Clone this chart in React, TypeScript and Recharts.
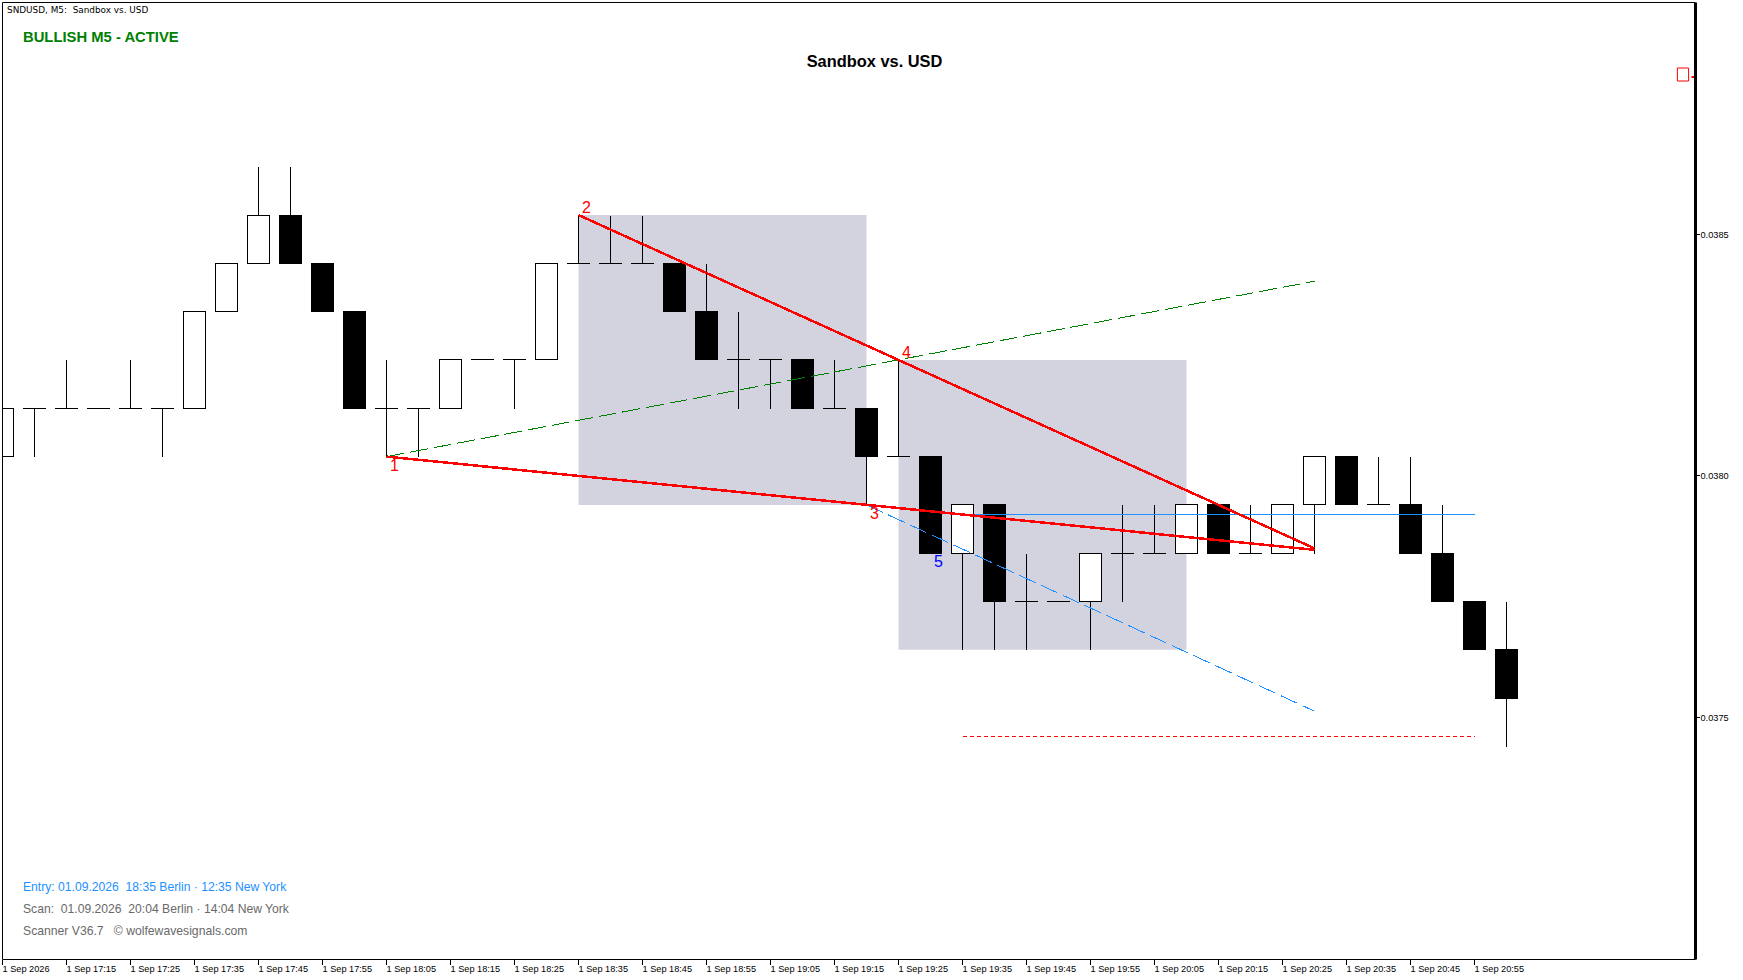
import React from "react";
import {
  ComposedChart,
  Bar,
  Line,
  XAxis,
  YAxis,
  ReferenceArea,
  ReferenceLine,
  ReferenceDot,
} from "recharts";

// Bar index: 0 = first bar on the chart (17:05), one bar each five minutes
const barIndex = [
  0, 1, 2, 3, 4, 5, 6, 7, 8, 9, 10, 11, 12, 13, 14, 15, 16, 17, 18, 19, 20, 21, 22, 23,
  24, 25, 26, 27, 28, 29, 30, 31, 32, 33, 34, 35, 36, 37, 38, 39, 40, 41, 42, 43, 44, 45, 46, 47,
];
const opens = [
  0.03804, 0.03814, 0.03814, 0.03814, 0.03814, 0.03814, 0.03814, 0.03834, 0.03844, 0.03854, 0.03844, 0.03834,
  0.03814, 0.03814, 0.03814, 0.03824, 0.03824, 0.03824, 0.03844, 0.03844, 0.03844, 0.03844, 0.03834, 0.03824,
  0.03824, 0.03824, 0.03814, 0.03814, 0.03804, 0.03804, 0.03784, 0.03794, 0.03774, 0.03774, 0.03774, 0.03784,
  0.03784, 0.03784, 0.03794, 0.03784, 0.03784, 0.03794, 0.03804, 0.03794, 0.03794, 0.03784, 0.03774, 0.03764,
];
const closes = [
  0.03814, 0.03814, 0.03814, 0.03814, 0.03814, 0.03814, 0.03834, 0.03844, 0.03854, 0.03844, 0.03834, 0.03814,
  0.03814, 0.03814, 0.03824, 0.03824, 0.03824, 0.03844, 0.03844, 0.03844, 0.03844, 0.03834, 0.03824, 0.03824,
  0.03824, 0.03814, 0.03814, 0.03804, 0.03804, 0.03784, 0.03794, 0.03774, 0.03774, 0.03774, 0.03784, 0.03784,
  0.03784, 0.03794, 0.03784, 0.03784, 0.03794, 0.03804, 0.03794, 0.03794, 0.03784, 0.03774, 0.03764, 0.03754,
];
const highs = [
  0.03814, 0.03814, 0.03824, 0.03814, 0.03824, 0.03814, 0.03834, 0.03844, 0.03864, 0.03864, 0.03844, 0.03834,
  0.03824, 0.03814, 0.03824, 0.03824, 0.03824, 0.03844, 0.03854, 0.03854, 0.03854, 0.03844, 0.03844, 0.03834,
  0.03824, 0.03824, 0.03824, 0.03814, 0.03824, 0.03804, 0.03794, 0.03794, 0.03784, 0.03774, 0.03784, 0.03794,
  0.03794, 0.03794, 0.03794, 0.03794, 0.03794, 0.03804, 0.03804, 0.03804, 0.03804, 0.03794, 0.03774, 0.03774,
];
const lows = [
  0.03804, 0.03804, 0.03814, 0.03814, 0.03814, 0.03804, 0.03814, 0.03834, 0.03844, 0.03844, 0.03834, 0.03814,
  0.03804, 0.03804, 0.03814, 0.03824, 0.03814, 0.03824, 0.03844, 0.03844, 0.03844, 0.03834, 0.03824, 0.03814,
  0.03814, 0.03814, 0.03814, 0.03794, 0.03804, 0.03784, 0.03764, 0.03764, 0.03764, 0.03774, 0.03764, 0.03774,
  0.03784, 0.03784, 0.03784, 0.03784, 0.03784, 0.03784, 0.03794, 0.03794, 0.03784, 0.03774, 0.03764, 0.03744,
];

const tickBars = [
  0, 2, 4, 6, 8, 10, 12, 14, 16, 18, 20, 22, 24, 26, 28, 30, 32, 34, 36, 38, 40, 42, 44, 46,
];
const tickLabels = [
  "1 Sep 2026", "1 Sep 17:15", "1 Sep 17:25", "1 Sep 17:35", "1 Sep 17:45", "1 Sep 17:55",
  "1 Sep 18:05", "1 Sep 18:15", "1 Sep 18:25", "1 Sep 18:35", "1 Sep 18:45", "1 Sep 18:55",
  "1 Sep 19:05", "1 Sep 19:15", "1 Sep 19:25", "1 Sep 19:35", "1 Sep 19:45", "1 Sep 19:55",
  "1 Sep 20:05", "1 Sep 20:15", "1 Sep 20:25", "1 Sep 20:35", "1 Sep 20:45", "1 Sep 20:55",
];
const priceTicks = [0.0375, 0.038, 0.0385];

// Wolfe wave lines
const line1to3 = [{ i: 12, v: 0.03804 }, { i: 41, v: 0.037847 }];
const line2to4 = [{ i: 18, v: 0.03854 }, { i: 41, v: 0.03785 }];
const line1to4 = [{ i: 12, v: 0.03804 }, { i: 41, v: 0.038403 }];
const line3to5 = [{ i: 27, v: 0.03794 }, { i: 41, v: 0.037513 }];
const entryLevel = [{ i: 30, v: 0.03792 }, { i: 46, v: 0.03792 }];
const stopLevel = [{ i: 30, v: 0.03746 }, { i: 46, v: 0.03746 }];

// Shaded zones: [bar from, bar to, price low, price high]
const zones = [
  [18, 27, 0.03794, 0.03854],
  [28, 37, 0.03764, 0.03824],
];

// Wave numbers: label, bar, price, above the point?, colour
const waveLabels: [string, number, number, boolean, string][] = [
  ["1", 12, 0.03804, false, "#ff0000"],
  ["2", 18, 0.03854, true, "#ff0000"],
  ["3", 27, 0.03794, false, "#ff0000"],
  ["4", 28, 0.03824, true, "#ff0000"],
  ["5", 29, 0.03784, false, "#0000ff"],
];

const WIDTH = 1743;
const HEIGHT = 980;
const M_LEFT = 2.5;
const M_TOP = 2.5;
const AXIS_W = 47.5;
const AXIS_H = 20.5;
const X_MAX = 52.906;
const Y_MIN = 0.036999;
const Y_MAX = 0.03898;
const PX_PER_PRICE = (HEIGHT - M_TOP - AXIS_H) / (Y_MAX - Y_MIN);
const AXIS_FONT = "'Liberation Sans', Arial, sans-serif";

const candleData = barIndex.map((i, n) => ({
  i,
  open: opens[n],
  close: closes[n],
  high: highs[n],
  low: lows[n],
  range: [lows[n], highs[n]],
}));

const snap = (v: number) => Math.floor(v) + 0.5;

function Candle(props: any) {
  const { x, y, width, payload } = props;
  const cx = snap(x + width / 2 - 0.5);
  const top = y;
  const toY = (p: number) => snap(top + (payload.high - p) * PX_PER_PRICE);
  const wickTop = toY(payload.high);
  const wickBottom = toY(payload.low);
  const bodyTop = toY(Math.max(payload.open, payload.close));
  const bodyBottom = toY(Math.min(payload.open, payload.close));
  const flat = payload.open === payload.close;
  const up = payload.close > payload.open;
  const left = Math.max(cx - 11, 2.5);
  return (
    <g shapeRendering="crispEdges">
      {wickTop !== wickBottom && (
        <line x1={cx} x2={cx} y1={wickTop} y2={wickBottom + 0.5} stroke="#000" strokeWidth={1} />
      )}
      {flat ? (
        <line x1={cx - 11.5} x2={cx + 11.5} y1={bodyTop} y2={bodyTop} stroke="#000" strokeWidth={1} />
      ) : (
        <rect
          x={up ? left : cx - 11}
          y={bodyTop}
          width={cx + 11 - (up ? left : cx - 11)}
          height={bodyBottom - bodyTop}
          fill={up ? "#ffffff" : "#000000"}
          stroke="#000"
          strokeWidth={1}
        />
      )}
    </g>
  );
}

function TimeTick(props: any) {
  const { x, y, payload } = props;
  const label = tickLabels[tickBars.indexOf(payload.value)];
  return (
    <g>
      <line x1={x} x2={x} y1={y} y2={y + 5} stroke="#000" shapeRendering="crispEdges" />
      <text x={x} y={y + 12} textAnchor="start" fontFamily={AXIS_FONT} fontSize={9.2} fill="#000">
        {label}
      </text>
    </g>
  );
}

function PriceTick(props: any) {
  const { x, y, payload } = props;
  return (
    <g>
      <line x1={x + 1.5} x2={x + 4.5} y1={snap(y)} y2={snap(y)} stroke="#000" shapeRendering="crispEdges" />
      <text x={x + 5} y={y + 3.5} textAnchor="start" fontFamily={AXIS_FONT} fontSize={9.2} fill="#000">
        {payload.value.toFixed(4)}
      </text>
    </g>
  );
}

const overlay = (left: number, top: number, style: React.CSSProperties): React.CSSProperties => ({
  position: "absolute",
  left,
  top,
  whiteSpace: "pre",
  lineHeight: 1,
  fontFamily: "'Liberation Sans', Arial, sans-serif",
  ...style,
});

export default function App() {
  return (
    <div style={{ position: "absolute", left: 0, top: 0, width: WIDTH, height: HEIGHT, background: "#fff" }}>
      <ComposedChart
        width={WIDTH}
        height={HEIGHT}
        data={candleData}
        margin={{ top: M_TOP, left: M_LEFT, right: 0, bottom: 0 }}
      >
        <XAxis
          type="number"
          dataKey="i"
          domain={[0, X_MAX]}
          ticks={tickBars}
          allowDataOverflow
          height={AXIS_H}
          tickLine={false}
          tickSize={0}
          tickMargin={0}
          tick={<TimeTick />}
          interval={0}
          axisLine={{ stroke: "#000", strokeWidth: 1 }}
        />
        <YAxis
          orientation="right"
          type="number"
          domain={[Y_MIN, Y_MAX]}
          ticks={priceTicks}
          allowDataOverflow
          width={AXIS_W}
          tickLine={false}
          tickSize={0}
          tickMargin={0}
          tick={<PriceTick />}
          interval={0}
          axisLine={{ stroke: "#000", strokeWidth: 3 }}
        />
        <ReferenceLine x={0} stroke="#000" strokeWidth={1} />
        <ReferenceLine y={Y_MAX} stroke="#000" strokeWidth={1} />
        {zones.map((z, n) => (
          <ReferenceArea
            key={n}
            x1={z[0]}
            x2={z[1]}
            y1={z[2]}
            y2={z[3]}
            fill="#d3d3e0"
            fillOpacity={1}
            stroke="none"
          />
        ))}
        <Bar dataKey="range" barSize={23} shape={<Candle />} isAnimationActive={false} />
        <Line data={line1to4} dataKey="v" stroke="#008000" strokeWidth={1} strokeDasharray="18 6" dot={false} isAnimationActive={false} shapeRendering="crispEdges" />
        <Line data={line3to5} dataKey="v" stroke="#1e90ff" strokeWidth={1} strokeDasharray="18 6" dot={false} isAnimationActive={false} shapeRendering="crispEdges" />
        <Line data={entryLevel} dataKey="v" stroke="#1e90ff" strokeWidth={1} dot={false} isAnimationActive={false} shapeRendering="crispEdges" />
        <Line data={stopLevel} dataKey="v" stroke="#ff0000" strokeWidth={1} strokeDasharray="4 3" dot={false} isAnimationActive={false} shapeRendering="crispEdges" />
        <Line data={line1to3} dataKey="v" stroke="#ff0000" strokeWidth={2.5} dot={false} isAnimationActive={false} shapeRendering="crispEdges" />
        <Line data={line2to4} dataKey="v" stroke="#ff0000" strokeWidth={2.5} dot={false} isAnimationActive={false} shapeRendering="crispEdges" />
        <ReferenceArea x1={52.34} x2={52.69} y1={0.0388175} y2={0.0388444} fill="none" stroke="#ff0000" strokeWidth={1} />
        <ReferenceLine segment={[{ x: 52.78, y: 0.0388258 }, { x: 52.9, y: 0.0388258 }]} stroke="#ff0000" strokeWidth={2} />
        {waveLabels.map(([text, i, p, above, color]) => (
          <ReferenceDot
            key={text}
            x={i}
            y={p}
            r={0}
            shape={(s: any) => (
              <text
                x={s.cx + 8}
                y={s.cy + (above ? -2 : 14)}
                textAnchor="middle"
                fontFamily="'Liberation Sans', Arial, sans-serif"
                fontSize={16}
                fill={color}
              >
                {text}
              </text>
            )}
          />
        ))}
      </ComposedChart>
      <div style={overlay(7, 6, { fontFamily: "'DejaVu Sans', sans-serif", fontSize: 8.9, color: "#000" })}>
        {"SNDUSD, M5:  Sandbox vs. USD"}
      </div>
      <div style={overlay(23, 30, { fontSize: 14.8, fontWeight: 700, color: "#008000" })}>BULLISH M5 - ACTIVE</div>
      <div style={{ ...overlay(0, 53, { fontSize: 16.4, fontWeight: 700, color: "#000" }), width: 1749, textAlign: "center" }}>
        Sandbox vs. USD
      </div>
      <div style={overlay(23, 881, { fontSize: 12.15, color: "#1e90ff" })}>
        {"Entry: 01.09.2026  18:35 Berlin · 12:35 New York"}
      </div>
      <div style={overlay(23, 903, { fontSize: 12.15, color: "#696969" })}>
        {"Scan:  01.09.2026  20:04 Berlin · 14:04 New York"}
      </div>
      <div style={overlay(23, 925, { fontSize: 12.2, color: "#696969" })}>
        {"Scanner V36.7   © wolfewavesignals.com"}
      </div>
    </div>
  );
}
